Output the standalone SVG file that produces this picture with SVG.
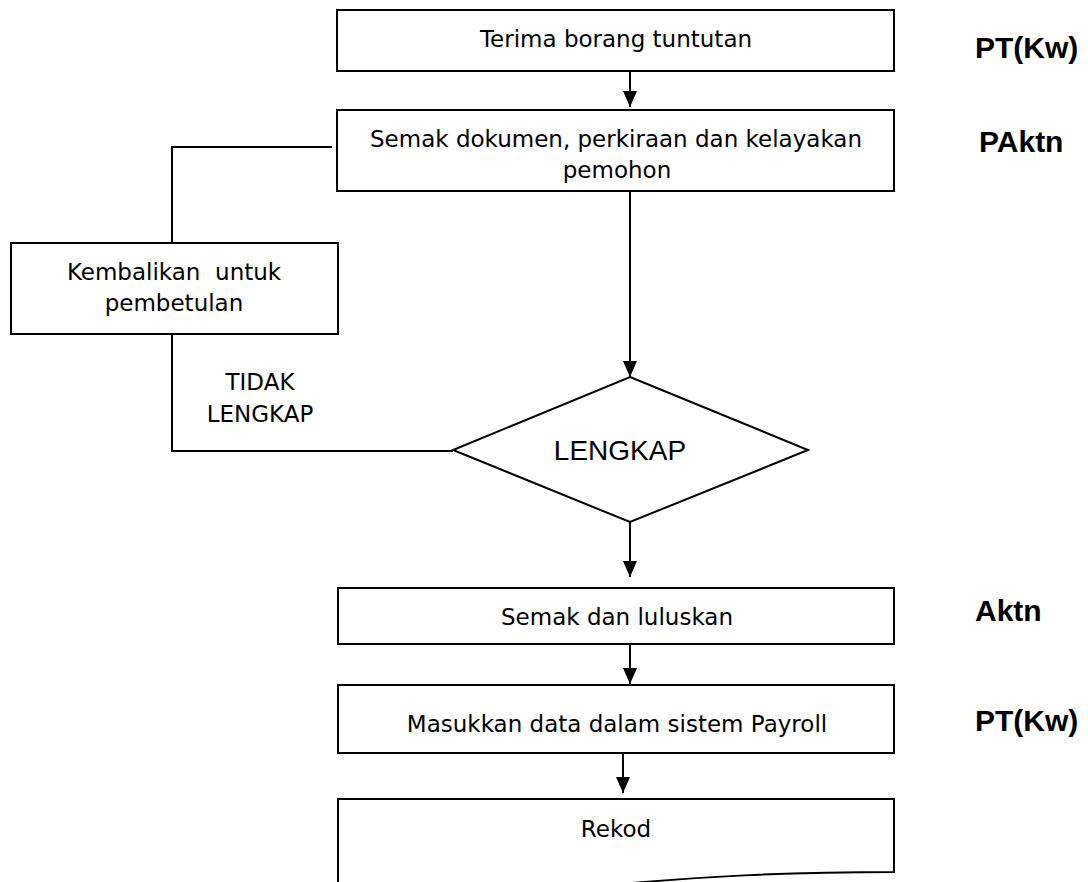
<svg xmlns="http://www.w3.org/2000/svg" width="1088" height="882" viewBox="0 0 1088 882">
<style>
.box{fill:#fff;stroke:#000;stroke-width:2}
.t{font-family:"DejaVu Sans",Verdana,sans-serif;font-size:23px;fill:#000;text-anchor:middle}
.a{font-family:"Liberation Sans",Arial,sans-serif;font-size:28px;fill:#000;text-anchor:middle}
.r{font-family:"Liberation Sans",Arial,sans-serif;font-size:30px;font-weight:bold;fill:#000}
.c{fill:none;stroke:#000;stroke-width:2}
</style>
<defs>
<marker id="ah" markerUnits="userSpaceOnUse" markerWidth="16" markerHeight="14" refX="16" refY="7" orient="auto" viewBox="0 0 16 14">
<path d="M0,0 L16,7 L0,14 z" fill="#000"/>
</marker>
</defs>
<rect width="1088" height="882" fill="#fff"/>
<g id="connectors">
<line class="c" x1="630" y1="71" x2="630" y2="107" marker-end="url(#ah)"/>
<line class="c" x1="630" y1="191" x2="630" y2="377" marker-end="url(#ah)"/>
<line class="c" x1="630" y1="522" x2="630" y2="577" marker-end="url(#ah)"/>
<line class="c" x1="630" y1="644" x2="630" y2="684" marker-end="url(#ah)"/>
<line class="c" x1="623" y1="753" x2="623" y2="793" marker-end="url(#ah)"/>
<polyline class="c" points="332,147 172,147 172,243"/>
<polyline class="c" points="172,334 172,451 453,451"/>
</g>
<g id="n1">
<rect class="box" x="337" y="10" width="557" height="61"/>
<text class="t" x="616" y="47">Terima borang tuntutan</text>
</g>
<g id="n2">
<rect class="box" x="337" y="110" width="557" height="81"/>
<text class="t" x="616" y="147">Semak dokumen, perkiraan dan kelayakan</text>
<text class="t" x="617" y="178">pemohon</text>
</g>
<g id="n3">
<rect class="box" x="11" y="243" width="327" height="91"/>
<text class="t" x="174" y="280" xml:space="preserve">Kembalikan  untuk</text>
<text class="t" x="174" y="311">pembetulan</text>
</g>
<g id="lbl-tidak">
<text class="t" x="260" y="390">TIDAK</text>
<text class="t" x="260" y="422">LENGKAP</text>
</g>
<g id="n4">
<polygon class="box" points="630,377 808,450 630,522 453,450"/>
<text class="a" x="620" y="460">LENGKAP</text>
</g>
<g id="n5">
<rect class="box" x="338" y="588" width="556" height="56"/>
<text class="t" x="617" y="625">Semak dan luluskan</text>
</g>
<g id="n6">
<rect class="box" x="338" y="685" width="556" height="68"/>
<text class="t" x="617" y="732">Masukkan data dalam sistem Payroll</text>
</g>
<g id="n7">
<path class="box" d="M338,799 H894 V872 C800,872 700,875 560,890 L338,905 Z"/>
<text class="t" x="616" y="837">Rekod</text>
</g>
<g id="roles">
<text class="r" x="975" y="58">PT(Kw)</text>
<text class="r" x="979" y="152">PAktn</text>
<text class="r" x="975" y="621">Aktn</text>
<text class="r" x="975" y="731">PT(Kw)</text>
</g>
</svg>
